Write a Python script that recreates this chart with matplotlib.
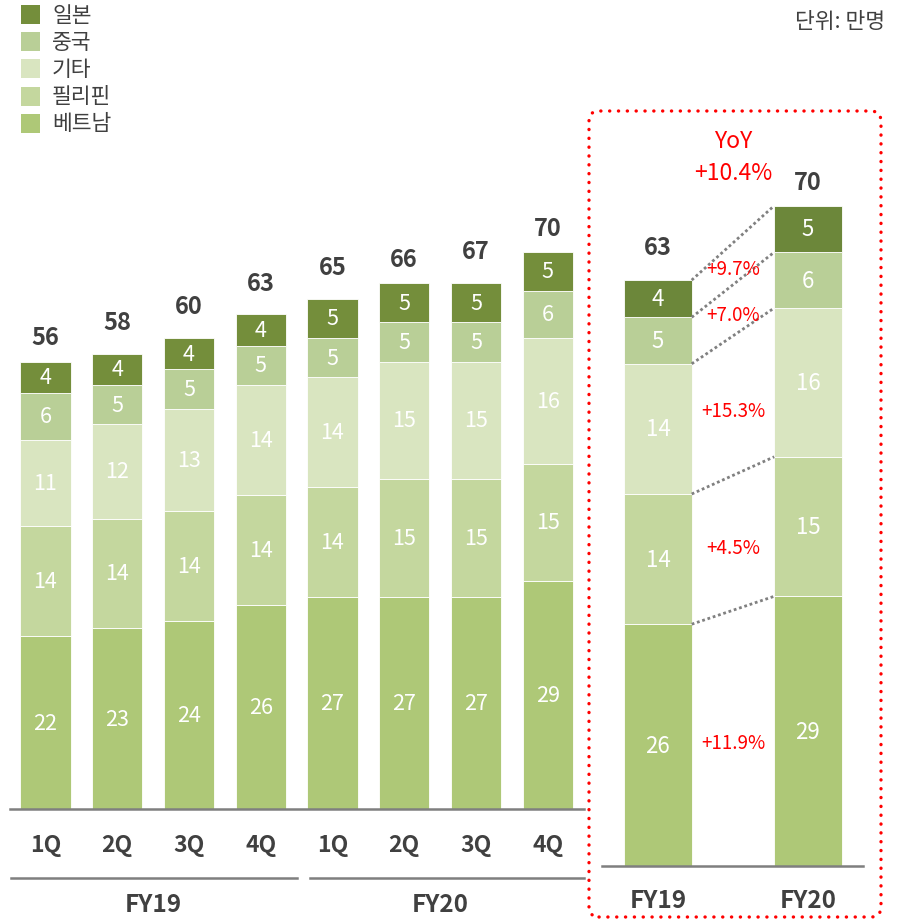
import matplotlib
matplotlib.use("Agg")
import matplotlib.pyplot as plt
from matplotlib.patches import Rectangle, FancyBboxPatch
import numpy as np

plt.rcParams['font.family'] = ['Noto Sans CJK KR', 'DejaVu Sans']

# ---------------- data ----------------
series = ['베트남', '필리핀', '기타', '중국', '일본']          # bottom -> top
colors = ['#aec877', '#c4d79e', '#d9e5c0', '#b9cf97', '#748e3b']
right_japan_color = '#6c873a'

quarters = ['1Q', '2Q', '3Q', '4Q', '1Q', '2Q', '3Q', '4Q']
years = ['FY19', 'FY20']

q_vietnam = [22, 23, 24, 26, 27, 27, 27, 29]
q_philippines = [14, 14, 14, 14, 14, 15, 15, 15]
q_other = [11, 12, 13, 14, 14, 15, 15, 16]
q_china = [6, 5, 5, 5, 5, 5, 5, 6]
q_japan = [4, 4, 4, 4, 5, 5, 5, 5]
q_totals = [56, 58, 60, 63, 65, 66, 67, 70]

y_vietnam = [26, 29]
y_philippines = [14, 15]
y_other = [14, 16]
y_china = [5, 6]
y_japan = [4, 5]
y_totals = [63, 70]

yoy_total = '+10.4%'
yoy_by_series = ['+11.9%', '+4.5%', '+15.3%', '+7.0%', '+9.7%']   # bottom -> top

unit_text = '단위: 만명'

TXT = '#404040'
W, H = 906, 920

fig = plt.figure(figsize=(W / 100, H / 100), dpi=100)


def fig_rect(x0, y_bottom_px, w, h):
    return [x0 / W, (H - y_bottom_px) / H, w / W, h / H]


# ---------------- left panel (quarters) ----------------
ax1 = fig.add_axes(fig_rect(9.6, 810, 574, 710))
q_data = [q_vietnam, q_philippines, q_other, q_china, q_japan]
x1 = np.arange(len(quarters))
bottom = np.zeros(len(quarters))
for vals, col in zip(q_data, colors):
    vals = np.array(vals, dtype=float)
    ax1.bar(x1, vals, width=0.70, bottom=bottom, color=col,
            edgecolor='white', linewidth=0.6)
    for xi, b, v in zip(x1, bottom, vals):
        ax1.text(xi, b + v / 2, f'{int(v)}', ha='center', va='center',
                 color='white', fontsize=15.5)
    bottom += vals
for xi, t in zip(x1, q_totals):
    ax1.annotate(f'{t}', (xi, t), xytext=(0, 23), textcoords='offset points',
                 ha='center', va='center', color=TXT, fontsize=17,
                 fontweight='bold')

ax1.set_xlim(-0.5, 7.5)
ax1.set_ylim(0, 710 / 7.85)
for s in ['top', 'right', 'left']:
    ax1.spines[s].set_visible(False)
ax1.spines['bottom'].set_color('#7f7f7f')
ax1.spines['bottom'].set_linewidth(1.8)
ax1.set_yticks([])
ax1.set_xticks(x1)
ax1.set_xticklabels(quarters, fontsize=16.5, fontweight='bold', color=TXT)
ax1.tick_params(axis='x', length=0, pad=17)

# group lines and year labels
trans1 = ax1.get_xaxis_transform()
group_spans = [(-0.48, 3.5), (3.68, 7.5)]
for gi, yr in enumerate(years):
    xs = x1[gi * 4:(gi + 1) * 4]
    ax1.plot(group_spans[gi], [-0.097, -0.097], color='#7f7f7f',
             lw=1.8, transform=trans1, clip_on=False)
    ax1.text(xs.mean(), -0.134, yr, transform=trans1, ha='center', va='center',
             fontsize=17.5, fontweight='bold', color=TXT)

# ---------------- right panel (years) ----------------
ax2 = fig.add_axes(fig_rect(602, 867, 261, 767))
y_data = [y_vietnam, y_philippines, y_other, y_china, y_japan]
x2 = np.arange(len(years))
bw = 0.45
bottom2 = np.zeros(len(years))
bounds = [bottom2.copy()]
for i, (vals, col) in enumerate(zip(y_data, colors)):
    vals = np.array(vals, dtype=float)
    c = right_japan_color if i == len(y_data) - 1 else col
    ax2.bar(x2, vals, width=bw, bottom=bottom2, color=c,
            edgecolor='white', linewidth=0.6)
    for xi, b, v in zip(x2, bottom2, vals):
        ax2.text(xi, b + v / 2, f'{int(v)}', ha='center', va='center',
                 color='white', fontsize=16)
    bottom2 = bottom2 + vals
    bounds.append(bottom2.copy())
for xi, t in zip(x2, y_totals):
    ax2.annotate(f'{t}', (xi, t), xytext=(0, 24), textcoords='offset points',
                 ha='center', va='center', color=TXT, fontsize=17,
                 fontweight='bold')

# dotted connectors
for b in bounds[1:]:
    ax2.plot([x2[0] + bw / 2, x2[1] - bw / 2], [b[0], b[1]], color='#808080',
             lw=2.0, linestyle=(0, (1, 1)))

# yoy labels between connectors
for i, lab in enumerate(yoy_by_series):
    lo = (bounds[i][0] + bounds[i][1]) / 2
    hi = (bounds[i + 1][0] + bounds[i + 1][1]) / 2
    ax2.text(0.5, (lo + hi) / 2 - 0.5, lab, ha='center', va='center',
             color='#ff0000', fontsize=13.5)

ax2.text(0.5, 78.0, 'YoY', ha='center', va='center', color='#ff0000',
         fontsize=16.5)
ax2.text(0.5, 74.6, yoy_total, ha='center', va='center', color='#ff0000',
         fontsize=16.5)

ax2.set_xlim(-0.373, 1.367)
ax2.set_ylim(0, 767 / 9.3)
for s in ['top', 'right', 'left']:
    ax2.spines[s].set_visible(False)
ax2.spines['bottom'].set_color('#7f7f7f')
ax2.spines['bottom'].set_linewidth(1.8)
ax2.set_yticks([])
ax2.set_xticks(x2)
ax2.set_xticklabels(years, fontsize=17.5, fontweight='bold', color=TXT)
ax2.tick_params(axis='x', length=0, pad=16)

# red dotted rounded box
box = FancyBboxPatch((5.89, 0.02), 2.92, 8.06,
                     boxstyle='round,pad=0,rounding_size=0.1',
                     transform=fig.dpi_scale_trans, fill=False,
                     edgecolor='#ff0000', linewidth=2.4,
                     linestyle=(0, (0.05, 2.6)), capstyle='round')
fig.patches.append(box)

# ---------------- legend ----------------
leg_order = list(range(len(series)))[::-1]   # top -> bottom: 일본 ... 베트남
for row, si in enumerate(leg_order):
    yc = 15.5 + 27.2 * row
    fig.patches.append(Rectangle((21 / W, (H - yc - 9.5) / H), 19 / W, 19 / H,
                                 transform=fig.transFigure,
                                 facecolor=colors[si], edgecolor='none'))
    fig.text(52 / W, (H - yc) / H, series[si], ha='left', va='center',
             fontsize=15.5, color=TXT)

fig.text(885 / W, (H - 22) / H, unit_text, ha='right', va='center',
         fontsize=15.5, color=TXT)

fig.savefig('out.png', dpi=100)
